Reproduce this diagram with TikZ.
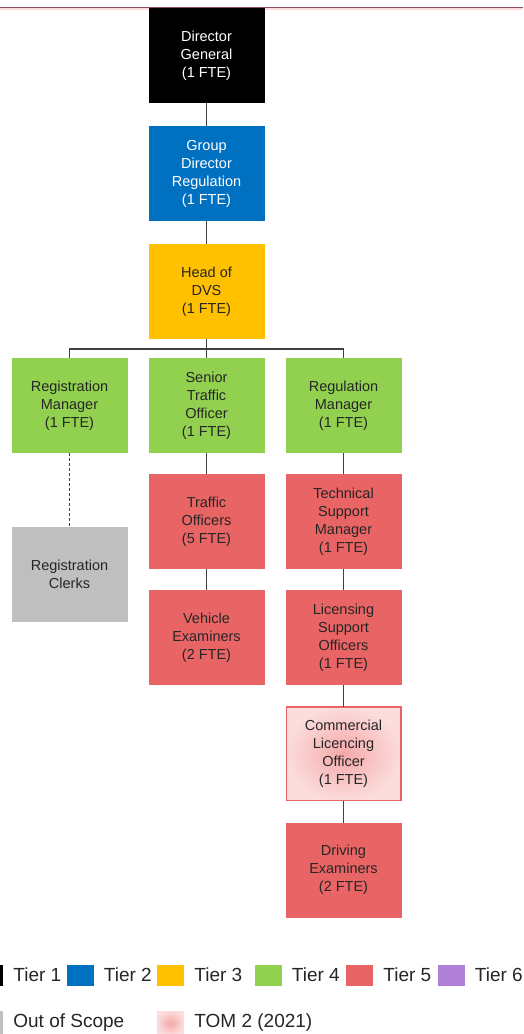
\documentclass[tikz,border=0pt]{standalone}
\usepackage{fontspec}
\setmainfont{Liberation Sans}
\usetikzlibrary{positioning}

\definecolor{tierone}{HTML}{000000}
\definecolor{tiertwo}{HTML}{0070C0}
\definecolor{tierthree}{HTML}{FFC000}
\definecolor{tierfour}{HTML}{92D050}
\definecolor{tierfive}{HTML}{E96464}
\definecolor{tiersix}{HTML}{B07FD8}
\definecolor{outscope}{HTML}{BFBFBF}
\definecolor{tompink}{HTML}{F4A8A8}
\definecolor{tomlight}{HTML}{FCDCDC}
\definecolor{boxtext}{HTML}{262626}
\definecolor{linegray}{HTML}{404040}
\definecolor{topline}{HTML}{8A4D6C}

\begin{document}
\begin{tikzpicture}[
    x=1pt, y=1pt,
    node distance=21pt,
    box/.style={
        rectangle,
        minimum width=116pt,
        minimum height=95pt,
        inner sep=2pt,
        outer sep=0pt,
        align=center,
        text=boxtext,
        font=\fontsize{14.5}{18}\selectfont
    },
    link/.style={draw=linegray, line width=1.2pt},
    swatch/.style={rectangle, minimum width=27pt, minimum height=21pt, inner sep=0pt},
    legtext/.style={inner sep=0pt, text=boxtext, font=\fontsize{19}{22}\selectfont}
]
\useasboundingbox (0,0) rectangle (523,-1034);

\draw[topline, line width=1pt] (0,-7) -- (523,-7);
\fill[tomlight] (0,-7.5) rectangle (523,-10);

\node[box, fill=tierone, text=white] (dg) at (206.5,-55.5) {Director\\General\\(1 FTE)};
\node[box, fill=tiertwo, text=white, below=23pt of dg] (gdr) {Group\\Director\\Regulation\\(1 FTE)};
\node[box, fill=tierthree, below=23pt of gdr] (dvs) {Head of\\DVS\\(1 FTE)};

\node[box, fill=tierfour, below=19pt of dvs] (sto) {Senior\\Traffic\\Officer\\(1 FTE)};
\node[box, fill=tierfour, left=21pt of sto] (regman) {Registration\\Manager\\(1 FTE)};
\node[box, fill=tierfour, right=21pt of sto] (regl) {Regulation\\Manager\\(1 FTE)};

\node[box, fill=outscope, below=74pt of regman] (clerks) {Registration\\Clerks};
\node[box, fill=tierfive, below=of sto] (traffic) {Traffic\\Officers\\(5 FTE)};
\node[box, fill=tierfive, below=of traffic] (vehicle) {Vehicle\\Examiners\\(2 FTE)};
\node[box, fill=tierfive, below=of regl] (tsm) {Technical\\Support\\Manager\\(1 FTE)};
\node[box, fill=tierfive, below=of tsm] (lso) {Licensing\\Support\\Officers\\(1 FTE)};
\node[box, draw=tierfive, line width=1.5pt, inner color=tompink, outer color=tomlight,
      minimum width=114.5pt, minimum height=93.5pt, below=22pt of lso] (clo) {Commercial\\Licencing\\Officer\\(1 FTE)};
\node[box, fill=tierfive, below=22pt of clo] (driving) {Driving\\Examiners\\(2 FTE)};

\draw[link] (dg) -- (gdr);
\draw[link] (gdr) -- (dvs);
\draw[link] (dvs) -- (sto);
\draw[link] (dvs.south) -- ++(0,-10) coordinate (bus) -| (regman.north);
\draw[link] (bus) -| (regl.north);
\draw[link, dash pattern=on 3pt off 2pt] (regman) -- (clerks);
\draw[link] (sto) -- (traffic);
\draw[link] (traffic) -- (vehicle);
\draw[link] (regl) -- (tsm);
\draw[link] (tsm) -- (lso);
\draw[link] (lso) -- (clo);
\draw[link] (clo) -- (driving);

% legend
\foreach \col/\xpos/\txt [count=\i] in {tierone/-10.5/Tier 1, tiertwo/80/Tier 2,
    tierthree/170.5/Tier 3, tierfour/268/Tier 4, tierfive/359.5/Tier 5, tiersix/451/Tier 6} {
    \node[swatch, fill=\col] (sw\i) at (\xpos,-975) {};
    \node[legtext, right=10pt of sw\i] (lt\i) {\txt};
}
\node[swatch, fill=outscope, minimum height=24pt] (swout) at (-10.5,-1023) {};
\node[legtext, right=10pt of swout] (ltout) {Out of Scope};
\node[swatch, minimum height=24pt, inner color=tompink, outer color=tomlight] (swtom) at (170.5,-1023) {};
\node[legtext, right=10pt of swtom] (lttom) {TOM 2 (2021)};

\end{tikzpicture}
\end{document}
